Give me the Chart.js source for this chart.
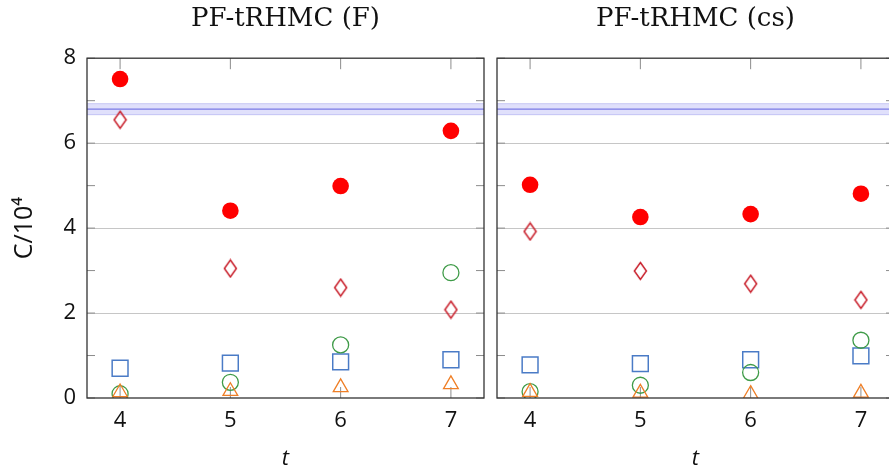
<!DOCTYPE html>
<html>
<head>
<meta charset="utf-8">
<title>PF-tRHMC cost</title>
<script src="https://cdn.jsdelivr.net/npm/chart.js@4.4.1/dist/chart.umd.min.js"></script>
<style>
    html, body {
        margin: 0;
        padding: 0;
        width: 889px;
        height: 473px;
        overflow: hidden;
        background: #fff;
    }
    .panel {
        position: absolute;
        top: 0;
    }
</style>
</head>
<body>
<div class="panel" style="left:0"><canvas id="chartF" width="490" height="473"></canvas></div>
<div class="panel" style="left:490px"><canvas id="chartCs" width="410" height="473"></canvas></div>

<script>
// t values (x axis) and y tick range
const tValues = [4, 5, 6, 7];
const xTicks = [4, 5, 6, 7];
const yMin = 0;
const yMax = 8;

// reference band C/10^4
const bandLow = 6.67;
const bandMid = 6.8;
const bandHigh = 6.93;

// PF-tRHMC (F)
const fRed = [7.51, 4.41, 4.99, 6.29];
const fDiamond = [6.55, 3.05, 2.60, 2.08];
const fGreen = [0.10, 0.37, 1.25, 2.95];
const fBlue = [0.70, 0.82, 0.85, 0.90];
const fOrange = [0.13, 0.16, 0.25, 0.32];

// PF-tRHMC (cs)
const csRed = [5.02, 4.26, 4.33, 4.81];
const csDiamond = [3.92, 2.99, 2.69, 2.31];
const csGreen = [0.15, 0.30, 0.60, 1.36];
const csBlue = [0.78, 0.81, 0.90, 0.99];
const csOrange = [0.14, 0.12, 0.09, 0.12];

const COLORS = {
    red: '#ff0000',
    diamond: '#c81e2a',
    green: '#3f9b48',
    blue: '#4a7bc6',
    orange: '#ef7f27',
    bandFill: '#e0e0fb',
    bandEdge: 'rgba(120, 120, 230, 0.35)',
    bandLine: '#7b7be6',
    grid: '#c6c6c6',
    tick: '#8c8c8c',
    frame: '#333333'
};

const SANS = "'Open Sans', 'Noto Sans', sans-serif";

// tall thin diamond marker (rectRot is too squat)
function makeDiamond(color) {
    const c = document.createElement('canvas');
    c.width = 15;
    c.height = 20;
    const ctx = c.getContext('2d');
    ctx.strokeStyle = color;
    ctx.lineWidth = 1.5;
    ctx.beginPath();
    ctx.moveTo(7.5, 1.5);
    ctx.lineTo(13.5, 10);
    ctx.lineTo(7.5, 18.5);
    ctx.lineTo(1.5, 10);
    ctx.closePath();
    ctx.stroke();
    return c;
}
const diamondMarker = makeDiamond(COLORS.diamond);

function toPoints(values) {
    return values.map((v, i) => ({ x: tValues[i], y: v }));
}

// inside tick marks and the closed axis frame
const frameTicks = {
    id: 'frameTicks',
    beforeDatasetsDraw(chart) {
        const { ctx, chartArea: a, scales: { x, y } } = chart;
        ctx.save();
        ctx.strokeStyle = COLORS.tick;
        ctx.lineWidth = 1;
        ctx.beginPath();
        x.ticks.forEach(t => {
            const px = x.getPixelForValue(t.value);
            ctx.moveTo(px, a.top);
            ctx.lineTo(px, a.top + 11);
            ctx.moveTo(px, a.bottom);
            ctx.lineTo(px, a.bottom - 11);
        });
        y.ticks.forEach(t => {
            const py = y.getPixelForValue(t.value);
            ctx.moveTo(a.left, py);
            ctx.lineTo(a.left + 8, py);
            ctx.moveTo(a.right, py);
            ctx.lineTo(a.right - 8, py);
        });
        ctx.stroke();
        ctx.restore();
    },
    afterDatasetsDraw(chart) {
        const { ctx, chartArea: a } = chart;
        ctx.save();
        ctx.strokeStyle = COLORS.frame;
        ctx.lineWidth = 1.3;
        ctx.strokeRect(a.left, a.top, a.right - a.left, a.bottom - a.top);
        ctx.restore();
    }
};

function bandDatasets() {
    const xs = [3.7, 7.3];
    const line = (v) => xs.map(x => ({ x, y: v }));
    return [
        {
            data: line(bandMid),
            showLine: true,
            pointRadius: 0,
            borderColor: COLORS.bandLine,
            borderWidth: 1.2
        },
        {
            data: line(bandHigh),
            showLine: true,
            pointRadius: 0,
            borderColor: COLORS.bandEdge,
            borderWidth: 1
        },
        {
            data: line(bandLow),
            showLine: true,
            pointRadius: 0,
            borderColor: COLORS.bandEdge,
            borderWidth: 1,
            fill: '-1',
            backgroundColor: COLORS.bandFill
        }
    ];
}

function makePanel(canvasId, title, s, showYLabels) {
    const ctx = document.getElementById(canvasId).getContext('2d');
    return new Chart(ctx, {
        type: 'scatter',
        data: {
            datasets: [
                {
                    data: toPoints(s.orange),
                    pointStyle: 'triangle',
                    pointRadius: 8.5,
                    borderColor: COLORS.orange,
                    backgroundColor: 'transparent',
                    borderWidth: 1.3
                },
                {
                    data: toPoints(s.green),
                    pointStyle: 'circle',
                    pointRadius: 8,
                    borderColor: COLORS.green,
                    backgroundColor: 'transparent',
                    borderWidth: 1.3
                },
                {
                    data: toPoints(s.blue),
                    pointStyle: 'rect',
                    pointRadius: 11.2,
                    borderColor: COLORS.blue,
                    backgroundColor: 'transparent',
                    borderWidth: 1.5
                },
                {
                    data: toPoints(s.diamond),
                    pointStyle: diamondMarker,
                    pointRadius: 8
                },
                {
                    data: toPoints(s.red),
                    pointStyle: 'circle',
                    pointRadius: 8.3,
                    backgroundColor: COLORS.red,
                    borderWidth: 0
                },
                ...bandDatasets()
            ]
        },
        options: {
            responsive: false,
            animation: false,
            devicePixelRatio: 1,
            layout: {
                autoPadding: false,
                padding: { left: 0, right: 6, top: 0, bottom: 0 }
            },
            plugins: {
                legend: { display: false },
                tooltip: { enabled: false },
                title: {
                    display: true,
                    text: title,
                    fullSize: false,
                    color: '#111',
                    font: { family: "'DejaVu Serif', serif", size: 26, weight: 'normal' },
                    padding: { top: 4, bottom: 23 }
                }
            },
            scales: {
                x: {
                    type: 'linear',
                    min: 3.7,
                    max: 7.3,
                    afterBuildTicks: scale => {
                        scale.ticks = xTicks.map(v => ({ value: v }));
                    },
                    afterFit: scale => {
                        scale.height = 75;
                        scale.paddingLeft = 0;
                        scale.paddingRight = 0;
                    },
                    grid: { display: false, drawTicks: false },
                    border: { display: false },
                    ticks: {
                        color: '#111',
                        padding: 10,
                        font: { family: SANS, size: 22 }
                    },
                    title: {
                        display: true,
                        text: 't',
                        color: '#111',
                        font: { family: SANS, size: 22, style: 'italic' },
                        padding: { top: 0, bottom: 1 }
                    }
                },
                y: {
                    type: 'linear',
                    min: yMin,
                    max: yMax,
                    afterFit: scale => {
                        scale.width = showYLabels ? 87 : 7;
                        scale.paddingTop = 0;
                        scale.paddingBottom = 0;
                    },
                    grid: {
                        drawTicks: false,
                        lineWidth: 1,
                        color: c => (c.tick && c.tick.value % 2 === 0 && c.tick.value > yMin && c.tick.value < yMax)
                            ? COLORS.grid : 'rgba(0,0,0,0)'
                    },
                    border: { display: false },
                    ticks: {
                        display: showYLabels,
                        stepSize: 1,
                        color: '#111',
                        padding: 11,
                        font: { family: SANS, size: 22 },
                        callback: v => (v % 2 === 0 ? String(v) : '')
                    },
                    title: {
                        display: showYLabels,
                        text: 'C/10⁴',
                        color: '#111',
                        font: { family: SANS, size: 25 },
                        padding: { top: 10, bottom: 0 }
                    }
                }
            }
        },
        plugins: [frameTicks]
    });
}

makePanel('chartF', 'PF-tRHMC (F)', {
    red: fRed, diamond: fDiamond, green: fGreen, blue: fBlue, orange: fOrange
}, true);

makePanel('chartCs', 'PF-tRHMC (cs)', {
    red: csRed, diamond: csDiamond, green: csGreen, blue: csBlue, orange: csOrange
}, false);
</script>
</body>
</html>
